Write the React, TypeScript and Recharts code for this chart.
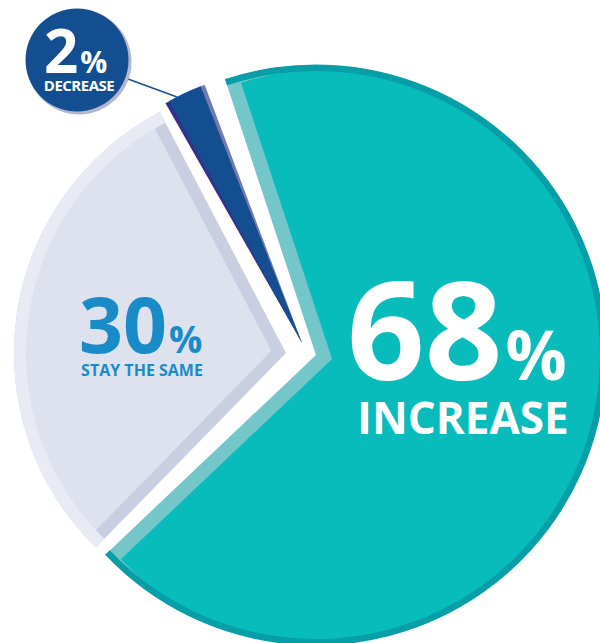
import { PieChart, Pie, Cell } from "recharts";

const categories = ["INCREASE", "STAY THE SAME", "DECREASE"];
const shares = [68, 30, 2];

const data = categories.map((name, i) => ({ name, value: shares[i] }));
const total = shares.reduce((a, b) => a + b, 0);

const FONT = "'Open Sans', 'Noto Sans', sans-serif";

// all angles here are clockwise from 12 o'clock, recharts wants ccw from 3 o'clock
const span = (i: number) => (shares[i] / total) * 360;
const before = (i: number) =>
  (shares.slice(0, i).reduce((a, b) => a + b, 0) / total) * 360;

function anglesFor(i: number, cw: number) {
  const s = 90 - (cw - before(i));
  return { startAngle: s, endAngle: s - 360 };
}

function nudge(cx: number, cy: number, cw: number, d: number) {
  const a = (cw * Math.PI) / 180;
  return [cx + d * Math.sin(a), cy - d * Math.cos(a)];
}

// inset a sector so its straight edges move in by w px
function inset(i: number, cx: number, cy: number, from: number, w: number) {
  const half = span(i) / 2;
  const d = w / Math.sin((half * Math.PI) / 180);
  const [x, y] = nudge(cx, cy, from + half, d);
  return { x, y, d };
}

type LayerOpts = {
  cx: number;
  cy: number;
  r: number;
  inner?: number;
  from: number;
  fill: string;
};

function layer(key: string, i: number, o: LayerOpts) {
  const { startAngle, endAngle } = anglesFor(i, o.from);
  return (
    <Pie
      key={key}
      data={data}
      dataKey="value"
      nameKey="name"
      cx={o.cx}
      cy={o.cy}
      innerRadius={o.inner ?? 0}
      outerRadius={o.r}
      startAngle={startAngle}
      endAngle={endAngle}
      stroke="none"
      labelLine={false}
      isAnimationActive={false}
    >
      {data.map((d, j) => (
        <Cell key={d.name} fill={j === i ? o.fill : "none"} stroke="none" />
      ))}
    </Pie>
  );
}

// exploded slices: own centre, radius and start angle
const inc = { cx: 316, cy: 355, r: 291, from: 341.75 };
const same = { cx: 286, cy: 353, r: 272, from: 224.35 };
const dec = { cx: 302, cy: 343, r: 276, from: 331.25 };

const incIn = inset(0, inc.cx, inc.cy, inc.from, 14);
const sameIn = inset(1, same.cx, same.cy, same.from, 12);

function renderLabel(p: any) {
  const { index, name, value } = p;
  if (index === 0) {
    return (
      <g key="lab-0" fontFamily={FONT} fontWeight={700} fill="#ffffff">
        <text x={347} y={380}>
          <tspan fontSize={136}>{value}</tspan>
          <tspan fontSize={68} dx={3}>%</tspan>
        </text>
        <text x={463} y={434} fontSize={44} textAnchor="middle">
          {name}
        </text>
      </g>
    );
  }
  if (index === 1) {
    return (
      <g key="lab-1" fontFamily={FONT} fontWeight={700} fill="#1a8bc9">
        <text x={79} y={353}>
          <tspan fontSize={77}>{value}</tspan>
          <tspan fontSize={37} dx={2}>%</tspan>
        </text>
        <text x={142} y={376} fontSize={16} textAnchor="middle">
          {name}
        </text>
      </g>
    );
  }
  return (
    <g key="lab-2" fontFamily={FONT} fontWeight={700} fill="#ffffff">
      <line x1={128} y1={79} x2={177} y2={97} stroke="#1d4f8e" strokeWidth={1.6} />
      <circle cx={79} cy={62} r={52.5} fill="#b3b6cc" />
      <circle cx={77} cy={60} r={51.5} fill="#124e90" />
      <text x={44} y={73}>
        <tspan fontSize={60}>{value}</tspan>
        <tspan fontSize={30} dx={2}>%</tspan>
      </text>
      <text x={79} y={91} fontSize={15} textAnchor="middle" letterSpacing={-0.5}>
        {name}
      </text>
    </g>
  );
}

export default function App() {
  const lab = anglesFor(0, inc.from);
  return (
    <div style={{ position: "absolute", left: 0, top: 0, width: 600, height: 643, background: "#fff" }}>
      <PieChart width={600} height={643} margin={{ top: 0, right: 0, bottom: 0, left: 0 }}>
        {/* increase */}
        {layer("inc-band", 0, { ...inc, fill: "#74c7c8" })}
        {layer("inc-main", 0, { ...inc, cx: incIn.x, cy: incIn.y, fill: "#08bcbc" })}
        {layer("inc-rim", 0, { ...inc, inner: inc.r - 7, fill: "#079ea8" })}
        {layer("inc-mask", 0, { ...inc, inner: inc.r - 0.5, r: inc.r + incIn.d + 3, fill: "#ffffff" })}
        {/* stay the same */}
        {layer("same-band", 1, { ...same, fill: "#c9cee0" })}
        {layer("same-main", 1, { ...same, cx: sameIn.x, cy: sameIn.y, r: same.r - sameIn.d, fill: "#dee2ee" })}
        {layer("same-rim", 1, { ...same, inner: same.r - 12, fill: "#e8eaf4" })}
        {/* decrease */}
        {layer("dec-left", 2, { ...dec, from: dec.from - 0.9, fill: "#35318a" })}
        {layer("dec-right", 2, { ...dec, from: dec.from + 0.9, fill: "#6f7cb2" })}
        {layer("dec-main", 2, { ...dec, fill: "#124e90" })}
        {/* callouts */}
        <Pie
          data={data}
          dataKey="value"
          nameKey="name"
          cx={inc.cx}
          cy={inc.cy}
          outerRadius={inc.r}
          startAngle={lab.startAngle}
          endAngle={lab.endAngle}
          stroke="none"
          labelLine={false}
          label={renderLabel}
          isAnimationActive={false}
        >
          {data.map((d) => (
            <Cell key={d.name} fill="none" stroke="none" />
          ))}
        </Pie>
      </PieChart>
    </div>
  );
}
